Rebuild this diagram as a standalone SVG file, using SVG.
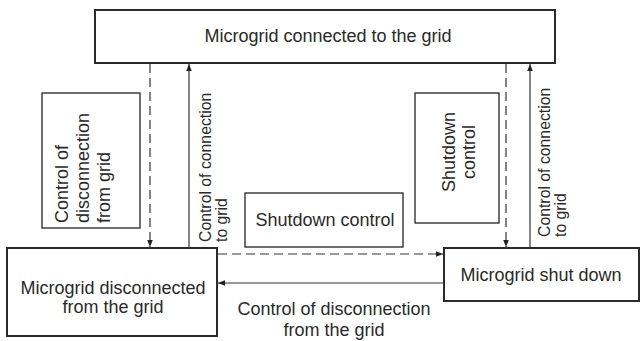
<svg xmlns="http://www.w3.org/2000/svg" width="641" height="341" viewBox="0 0 641 341">
<style>
.box{fill:#fff;stroke:#2b2b2b;stroke-width:2}
.lbl{fill:#fff;stroke:#333;stroke-width:1.4}
.t{font-family:"Liberation Sans",Arial,sans-serif;font-size:18px;fill:#2a2a2a}
.tr{font-family:"Liberation Sans",Arial,sans-serif;font-size:15.8px;fill:#2a2a2a}
.c{text-anchor:middle}
.ln{fill:none;stroke:#333;stroke-width:1.2}
.dash{stroke-dasharray:9 5}
</style>
<defs>
<marker id="ah" viewBox="0 0 10 10" refX="10" refY="5" markerWidth="7" markerHeight="7" markerUnits="userSpaceOnUse" orient="auto">
<path d="M0,1 L10,5 L0,9 Z" fill="#222"/>
</marker>
</defs>
<g id="connectors">
<line class="ln dash" x1="150" y1="64" x2="150" y2="247" marker-end="url(#ah)"/>
<line class="ln" x1="189" y1="247" x2="189" y2="64" marker-end="url(#ah)"/>
<line class="ln dash" x1="506" y1="64" x2="506" y2="247" marker-end="url(#ah)"/>
<line class="ln" x1="530" y1="247" x2="530" y2="64" marker-end="url(#ah)"/>
<line class="ln dash" x1="218" y1="254" x2="443" y2="254" marker-end="url(#ah)"/>
<line class="ln" x1="443" y1="283" x2="218" y2="283" marker-end="url(#ah)"/>
</g>
<g id="node-connected">
<rect class="box" x="95" y="10" width="460" height="53"/>
<text class="t c" x="328" y="42">Microgrid connected to the grid</text>
</g>
<g id="node-disconnected">
<rect class="box" x="7" y="248" width="210" height="88"/>
<text class="t c" x="113" y="294">Microgrid disconnected</text>
<text class="t c" x="113" y="313">from the grid</text>
</g>
<g id="node-shutdown">
<rect class="box" x="444" y="248" width="195" height="53"/>
<text class="t c" x="541" y="281">Microgrid shut down</text>
</g>
<g id="label-disconnect">
<rect class="lbl" x="42" y="93" width="98" height="135"/>
<text class="t" transform="translate(68,223) rotate(-90)">Control of<tspan x="0" dy="21">disconnection</tspan><tspan x="0" dy="21">from grid</tspan></text>
</g>
<g id="label-connect-left">
<text class="tr" transform="translate(211,242) rotate(-90)">Control of connection<tspan x="0" dy="16">to grid</tspan></text>
</g>
<g id="label-shutdown-mid">
<rect class="lbl" x="245" y="193" width="158" height="54"/>
<text class="t c" x="325" y="226">Shutdown control</text>
</g>
<g id="label-shutdown-right">
<rect class="lbl" x="415" y="93" width="84" height="130"/>
<text class="t c" transform="translate(455,152) rotate(-90)">Shutdown<tspan x="0" dy="20">control</tspan></text>
</g>
<g id="label-connect-right">
<text class="tr" transform="translate(550,237) rotate(-90)">Control of connection<tspan x="0" dy="16">to grid</tspan></text>
</g>
<g id="label-disconnect-bottom">
<text class="t c" x="334" y="315">Control of disconnection</text>
<text class="t c" x="334" y="336">from the grid</text>
</g>
</svg>
